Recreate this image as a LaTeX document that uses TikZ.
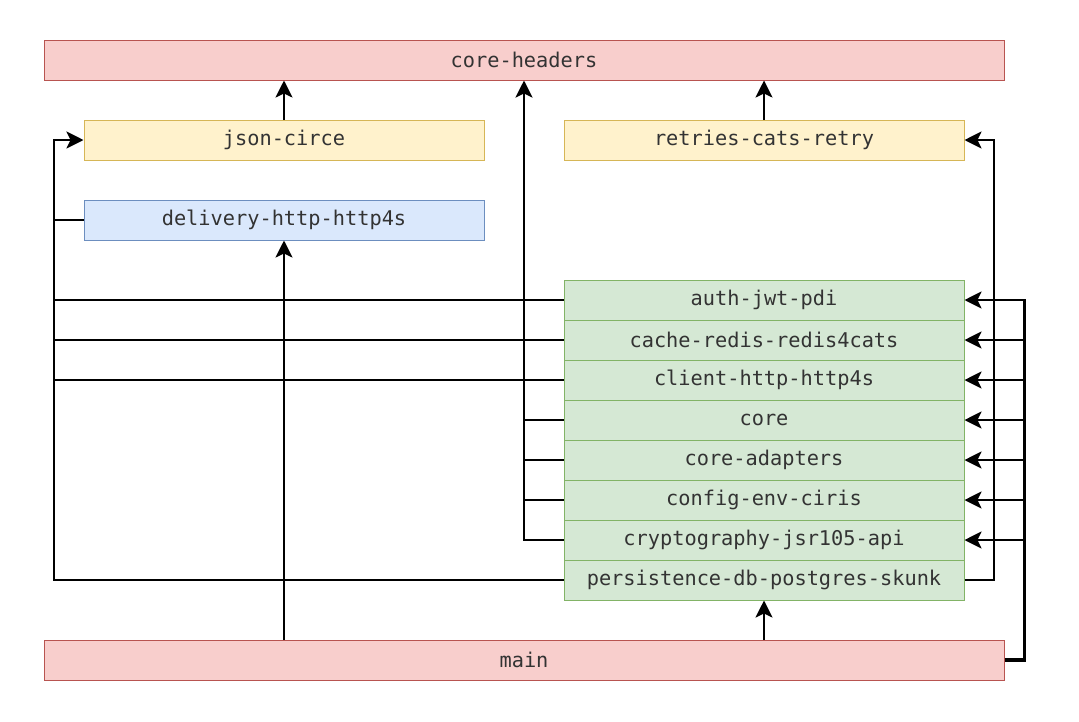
\documentclass[tikz,border=0pt]{standalone}
\usepackage{fontspec}
\setmonofont{DejaVu Sans Mono}
\usetikzlibrary{arrows.meta,calc}
\definecolor{redf}{HTML}{F8CECC}\definecolor{redd}{HTML}{B85450}
\definecolor{yelf}{HTML}{FFF2CC}\definecolor{yeld}{HTML}{D6B656}
\definecolor{bluf}{HTML}{DAE8FC}\definecolor{blud}{HTML}{6C8EBF}
\definecolor{grnf}{HTML}{D5E8D4}\definecolor{grnd}{HTML}{82B366}
\tikzset{
  box/.style={rectangle,minimum height=40pt,inner sep=0pt,line width=1pt,
    font=\ttfamily\fontsize{20.3}{24}\selectfont,text=black!80},
  wide/.style={box,minimum width=960pt},
  half/.style={box,minimum width=400pt},
  redbox/.style={fill=redf,draw=redd},
  yelbox/.style={fill=yelf,draw=yeld},
  blubox/.style={fill=bluf,draw=blud},
  grnbox/.style={fill=grnf,draw=grnd},
  conn/.style={line width=2.2pt,black},
  arr/.style={conn,-{Stealth[length=17pt,width=17pt,inset=4pt]}},
}
\begin{document}
\begin{tikzpicture}[x=1pt,y=-1pt]
\useasboundingbox (0,0) rectangle (1079,721);
\node[wide,redbox] (ch) at (524,60) {core-headers};
\node[half,yelbox] (json) at (284,140) {json-circe};
\node[half,yelbox] (ret) at (764,140) {retries-cats-retry};
\node[half,blubox] (del) at (284,220) {delivery-http-http4s};
\node[half,grnbox] (auth) at (764,300) {auth-jwt-pdi};
\node[half,grnbox] (cache) at (764,340) {cache-redis-redis4cats};
\node[half,grnbox] (client) at (764,380) {client-http-http4s};
\node[half,grnbox] (core) at (764,420) {core};
\node[half,grnbox] (coread) at (764,460) {core-adapters};
\node[half,grnbox] (config) at (764,500) {config-env-ciris};
\node[half,grnbox] (crypto) at (764,540) {cryptography-jsr105-api};
\node[half,grnbox] (pers) at (764,580) {persistence-db-postgres-skunk};
\node[wide,redbox] (main) at (524,660) {main};
\coordinate (lb) at (54,140);
\coordinate (rb) at (1024,300);
\coordinate (rb2) at (994,140);
% to core-headers
\draw[arr] (json.north) -- (json.north |- ch.south);
\draw[arr] (ret.north) -- (ret.north |- ch.south);
\draw[arr,line width=2.6pt] (crypto.west) -| (ch.south);
\foreach \n in {core,coread,config}{\draw[conn] (\n.west) -- (\n.west -| ch.south);}
% to json-circe
\draw[arr,line width=2.6pt] (pers.west) -| (lb) -- (json.west);
\foreach \n in {del,auth,cache,client}{\draw[conn] (\n.west) -- (\n.west -| lb);}
% from main
\draw[arr] (main.north -| del.south) -- (del.south);
\draw[arr] (main.north -| pers.south) -- (pers.south);
\draw[line width=4pt] (main.east) -- (main.east -| rb) coordinate (mc);
\draw[line width=3pt,line cap=rect] (mc) -- (rb);
\draw[arr] (rb) -- (auth.east);
\foreach \n in {cache,client,core,coread,config,crypto}{\draw[arr] (\n.east -| rb) -- (\n.east);}
% persistence to retries
\draw[arr] (pers.east) -| (rb2) -- (ret.east);
\end{tikzpicture}
\end{document}
